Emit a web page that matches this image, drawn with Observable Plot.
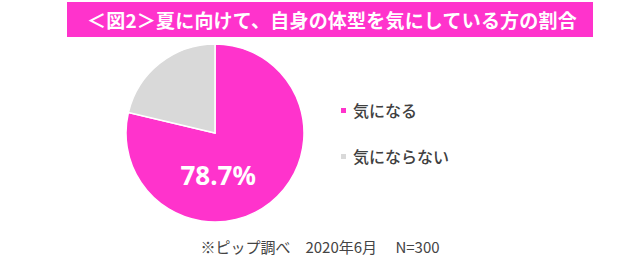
<!DOCTYPE html>
<html><head><meta charset="utf-8">
<script src="https://cdn.jsdelivr.net/npm/d3@7"></script>
<script src="https://cdn.jsdelivr.net/npm/@observablehq/plot@0.6"></script>
<style>
body{margin:0;background:#fff;font-family:"Noto Sans CJK JP","Noto Sans",sans-serif;width:640px;height:273px;overflow:hidden;position:relative}
#title{position:absolute;left:67px;top:2px;width:506px;height:35px;line-height:35px;padding-left:20px;background:#ff33cc;color:#fff;font-weight:bold;font-size:19px;letter-spacing:0.2px;white-space:nowrap}
#chart{position:absolute;left:0;top:37px}
#legend{position:absolute;left:341px;top:98px;color:#404040;font-size:16px;font-weight:500}
#legend .item{line-height:24px;display:flex;align-items:center;height:24px;margin-bottom:22px}
#legend .sw{width:5px;height:5px;margin-right:7px;margin-top:1px}
#caption{position:absolute;left:0;width:640px;top:236px;text-align:center;color:#444;font-size:15px;white-space:pre}
</style></head>
<body>
<div id="title"></div>
<div id="chart"></div>
<div id="legend"></div>
<div id="caption"></div>
<script>
const titleText = "＜図2＞夏に向けて、自身の体型を気にしている方の割合";
const categories = ["気になる", "気にならない"];
const values = [78.7, 21.3];
const colors = ["#ff33cc", "#d9d9d9"];
const labelText = "78.7%";
const captionText = "※ピップ調べ　2020年6月　 N=300";

document.getElementById("title").textContent = titleText;
document.getElementById("caption").textContent = captionText;

const data = categories.map((c, i) => ({category: c, value: values[i]}));
const arcs = d3.pie().sort(null).value(d => d.value)(data);

function pieMark(index, scales, vals, dims) {
  const sx = scales.x, sy = scales.y;
  const cx = sx(0), cy = sy(0);
  const r = sx(1) - sx(0);
  const arc = d3.arc().innerRadius(0).outerRadius(r);
  const g = d3.create("svg:g").attr("transform", `translate(${cx},${cy})`);
  g.selectAll("path").data(arcs).join("path")
    .attr("d", arc)
    .attr("fill", (d, i) => colors[i])
    .attr("stroke", "#fff")
    .attr("stroke-width", 1.5);
  return g.node();
}

const chart = Plot.plot({
  width: 640,
  height: 196,
  margin: 0,
  x: {domain: [-1, 1], range: [126, 304], axis: null},
  y: {domain: [-1, 1], range: [185, 7], axis: null},
  marks: [
    pieMark,
    Plot.text([labelText], {
      x: () => 0.03, y: () => -0.49, text: d => d,
      fill: "#fff", fontSize: 26, fontWeight: "bold",
      fontFamily: "Noto Sans, sans-serif"
    })
  ]
});
document.getElementById("chart").appendChild(chart);

const legend = document.getElementById("legend");
categories.forEach((c, i) => {
  const item = document.createElement("div");
  item.className = "item";
  const sw = document.createElement("span");
  sw.className = "sw";
  sw.style.background = colors[i];
  const t = document.createElement("span");
  t.textContent = c;
  item.appendChild(sw); item.appendChild(t);
  legend.appendChild(item);
});
</script>
</body></html>
